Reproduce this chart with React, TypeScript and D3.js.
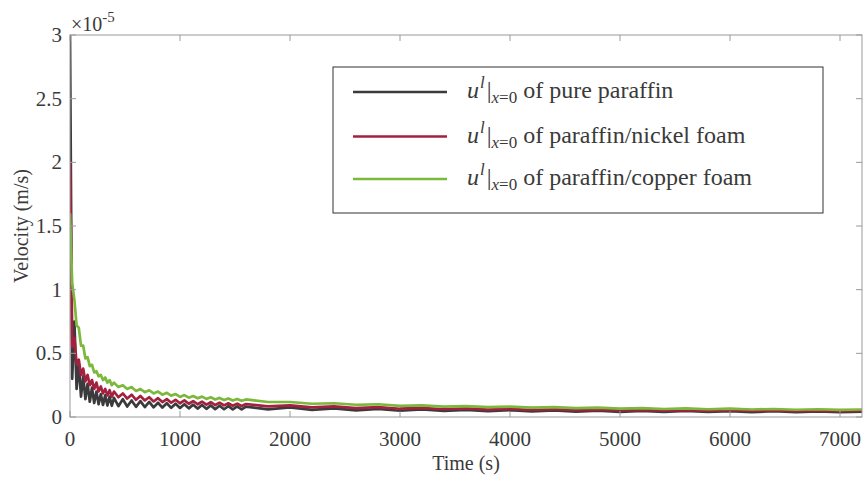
import React from "react";
import * as d3 from "d3";

// Sample times (s)
const times: number[] = [
  0, 20, 40, 60, 80, 100, 120, 140, 160, 180, 200, 220, 240, 260, 280, 300, 320, 340, 360, 380, 400,
  440, 480, 520, 560, 600, 640, 680, 720, 760, 800, 840, 880, 920, 960, 1000, 1040, 1080, 1120, 1160,
  1200, 1240, 1280, 1320, 1360, 1400, 1440, 1480, 1520, 1560, 1600,
  1800, 2000, 2200, 2400, 2600, 2800, 3000, 3200, 3400, 3600, 3800, 4000, 4200, 4400, 4600, 4800,
  5000, 5200, 5400, 5600, 5800, 6000, 6200, 6400, 6600, 6800, 7000, 7200,
];

// Velocity at x = 0, in units of 1e-5 m/s
const purePara: number[] = [
  3.0, 0.3, 0.75, 0.22, 0.42, 0.16, 0.32, 0.14, 0.26, 0.12, 0.23, 0.11, 0.2, 0.1, 0.18, 0.095, 0.17, 0.09, 0.16, 0.088, 0.15,
  0.085, 0.14, 0.082, 0.13, 0.08, 0.125, 0.078, 0.118, 0.076, 0.112, 0.074, 0.108, 0.072, 0.104, 0.07, 0.1, 0.068, 0.097, 0.066,
  0.094, 0.064, 0.091, 0.062, 0.088, 0.061, 0.086, 0.06, 0.084, 0.059, 0.082,
  0.06, 0.075, 0.056, 0.068, 0.052, 0.063, 0.049, 0.059, 0.047, 0.056, 0.045, 0.053, 0.043, 0.051, 0.042, 0.049,
  0.041, 0.048, 0.04, 0.047, 0.04, 0.046, 0.039, 0.045, 0.039, 0.044, 0.038, 0.043,
];

const nickelFoam: number[] = [
  2.0, 0.55, 0.62, 0.42, 0.45, 0.33, 0.38, 0.28, 0.33, 0.25, 0.29, 0.22, 0.27, 0.2, 0.24, 0.185, 0.22, 0.17, 0.21, 0.16, 0.2,
  0.155, 0.185, 0.145, 0.175, 0.135, 0.165, 0.13, 0.155, 0.122, 0.148, 0.117, 0.14, 0.112, 0.135, 0.108, 0.13, 0.104, 0.125, 0.1,
  0.12, 0.097, 0.116, 0.094, 0.112, 0.091, 0.108, 0.088, 0.105, 0.086, 0.102,
  0.083, 0.092, 0.076, 0.084, 0.07, 0.077, 0.065, 0.072, 0.061, 0.068, 0.058, 0.064, 0.055, 0.061, 0.053, 0.058,
  0.051, 0.056, 0.049, 0.054, 0.048, 0.053, 0.047, 0.051, 0.046, 0.05, 0.045, 0.049,
];

const copperFoam: number[] = [
  1.6, 1.05, 0.92, 0.72, 0.7, 0.56, 0.56, 0.46, 0.47, 0.4, 0.41, 0.35, 0.36, 0.32, 0.33, 0.29, 0.31, 0.27, 0.29, 0.25, 0.27,
  0.235, 0.25, 0.22, 0.235, 0.205, 0.22, 0.195, 0.21, 0.185, 0.2, 0.175, 0.19, 0.168, 0.18, 0.158, 0.172, 0.152, 0.165, 0.147,
  0.16, 0.142, 0.155, 0.138, 0.15, 0.134, 0.146, 0.13, 0.142, 0.127, 0.138,
  0.118, 0.118, 0.104, 0.108, 0.096, 0.1, 0.088, 0.092, 0.082, 0.086, 0.077, 0.081, 0.073, 0.077, 0.069, 0.073,
  0.066, 0.07, 0.063, 0.067, 0.061, 0.065, 0.059, 0.063, 0.057, 0.061, 0.056, 0.059,
];

const xTicks: number[] = [0, 1000, 2000, 3000, 4000, 5000, 6000, 7000];
const yTicks: number[] = [0, 0.5, 1, 1.5, 2, 2.5, 3];

const seriesNames: string[] = ["of pure paraffin", "of paraffin/nickel foam", "of paraffin/copper foam"];
const seriesColors: string[] = ["#3b3b3d", "#a3213f", "#7cb83c"];
const seriesData: number[][] = [purePara, nickelFoam, copperFoam];

const W = 866;
const H = 477;
const left = 70;
const right = 862;
const top = 35;
const bottom = 417;

const serif: React.CSSProperties = { fontFamily: "'Liberation Serif', 'DejaVu Serif', serif" };

export default function App() {
  const x = d3.scaleLinear().domain([0, 7200]).range([left, right]);
  const y = d3.scaleLinear().domain([0, 3]).range([bottom, top]);
  const line = d3
    .line<number>()
    .x((_, i) => x(times[i]))
    .y((v) => y(v));

  const axisColor = "#9a9a9a";
  const textColor = "#3a3a3a";
  const tickLen = 6;

  const legendX = 333;
  const legendY = 67;
  const legendW = 490;
  const legendH = 146;
  const rowY = [92, 136.5, 179];

  return (
    <svg width={W} height={H} style={{ position: "absolute", left: 0, top: 0, background: "#fff", ...serif }}>
      <defs>
        <clipPath id="plotClip">
          <rect x={left} y={top} width={right - left} height={bottom - top} />
        </clipPath>
      </defs>
      <rect x={0} y={0} width={W} height={H} fill="#fff" />

      {/* data curves */}
      <g clipPath="url(#plotClip)">
        {seriesData.map((d, k) => (
          <path
            key={k}
            d={line(d) || ""}
            fill="none"
            stroke={seriesColors[k]}
            strokeWidth={2.7}
            strokeLinejoin="round"
          />
        ))}
      </g>

      {/* axes box */}
      <rect x={left} y={top} width={right - left} height={bottom - top} fill="none" stroke={axisColor} strokeWidth={1} />

      {/* x ticks */}
      {xTicks.map((t) => (
        <g key={"xt" + t}>
          <line x1={x(t)} x2={x(t)} y1={bottom} y2={bottom - tickLen} stroke={axisColor} />
          <line x1={x(t)} x2={x(t)} y1={top} y2={top + tickLen} stroke={axisColor} />
          <text x={x(t)} y={446} textAnchor="middle" style={serif} fontSize={21} fill={textColor}>
            {t}
          </text>
        </g>
      ))}

      {/* y ticks */}
      {yTicks.map((t) => (
        <g key={"yt" + t}>
          <line x1={left} x2={left + tickLen} y1={y(t)} y2={y(t)} stroke={axisColor} />
          <line x1={right} x2={right - tickLen} y1={y(t)} y2={y(t)} stroke={axisColor} />
          <text x={62} y={y(t) + 7} textAnchor="end" style={serif} fontSize={21} fill={textColor}>
            {t}
          </text>
        </g>
      ))}

      {/* exponent */}
      <text x={71} y={31} style={serif} fontSize={20} fill={textColor}>
        ×10
        <tspan dy={-9} fontSize={15}>
          -5
        </tspan>
      </text>

      {/* axis labels */}
      <text x={466} y={470} textAnchor="middle" style={serif} fontSize={20} fill={textColor}>
        Time (s)
      </text>
      <text
        transform={`translate(28, ${(top + bottom) / 2}) rotate(-90)`}
        textAnchor="middle"
        style={serif}
        fontSize={20}
        fill={textColor}
      >
        Velocity (m/s)
      </text>

      {/* legend */}
      <rect x={legendX} y={legendY} width={legendW} height={legendH} fill="#fff" stroke="#333" strokeWidth={1} />
      {seriesNames.map((name, k) => (
        <g key={"lg" + k}>
          <line x1={353} x2={447} y1={rowY[k]} y2={rowY[k]} stroke={seriesColors[k]} strokeWidth={2.5} />
          <text x={467} y={rowY[k] + 6} style={serif} fontSize={24} fill={textColor}>
            <tspan fontStyle="italic">u</tspan>
            <tspan fontStyle="italic" fontSize={17} dy={-10} dx={1}>l</tspan>
            <tspan dy={10} dx={2}>|</tspan>
            <tspan fontStyle="italic" fontSize={17} dy={5}>x</tspan>
            <tspan fontSize={17}>=0</tspan>
            <tspan dy={-5}>{" " + name}</tspan>
          </text>
        </g>
      ))}
    </svg>
  );
}
